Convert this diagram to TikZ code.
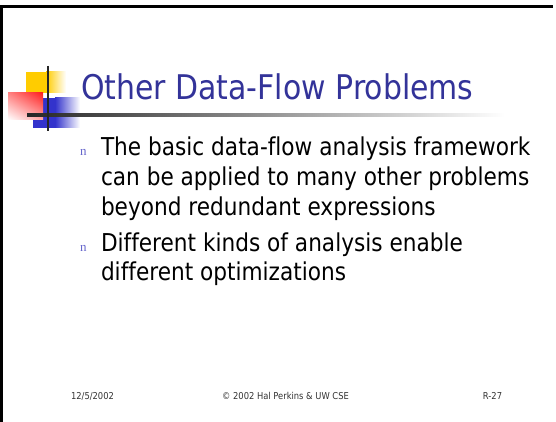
\documentclass[tikz,border=0pt]{standalone}
\usepackage{fontspec}
\usetikzlibrary{shadings}
\setmainfont{DejaVu Sans}[FakeStretch=0.88, Ligatures=NoCommon]
\newfontfamily\bulletfont{Liberation Serif}
\definecolor{titleblue}{HTML}{333399}
\definecolor{bulletblue}{HTML}{6666CC}
\definecolor{logoyellow}{HTML}{FFCC00}
\definecolor{logored}{HTML}{FF2020}
\definecolor{logoblue}{HTML}{3333CC}
\definecolor{footgray}{HTML}{333333}
\tikzset{
  txt/.style={anchor=base west, inner sep=0pt, outer sep=0pt},
  bodytext/.style={txt, font=\fontsize{24.6}{30}\selectfont, text=black},
  bulletmark/.style={txt, font=\bulletfont\fontsize{13}{13}\selectfont, text=bulletblue},
  foot/.style={anchor=base, inner sep=0pt, font=\fontsize{9.5}{11}\selectfont, text=footgray},
}
\begin{document}
\begin{tikzpicture}[x=1pt,y=-1pt]
\useasboundingbox (0,0) rectangle (556,422);
\fill[white] (0,0) rectangle (556,422);
% slide frame: top and left rules
\draw[line width=2.5pt, black] (0,6.5) -- (553,6.5);
\draw[line width=3pt, black] (1.5,5.3) -- (1.5,422);

% corner logo
\fill[logoyellow] (26,72) rectangle (46,93);
\shade[left color=logoyellow, right color=white] (46,72) rectangle (66,93);
\fill[logoblue] (33,98) rectangle (55,128);
\shade[left color=logoblue, right color=white] (55,98) rectangle (80,128);
\shade[upper right=logored, upper left=logored!55, lower right=logored!40, lower left=white]
  (8,93) rectangle (43,119.5);
\shade[left color=black!85, right color=white] (27,113.5) rectangle (505,116.5);
\draw[line width=2pt, black!85] (48,66) -- (48,131);

% title
\node[txt, font=\fontsize{34}{40}\selectfont, text=titleblue] (title) at (81,100) {Other Data-Flow Problems};

% bullets
\node[bulletmark] (b1) at (80,156) {n};
\node[bodytext] (l1) at (101,156) {The basic data-flow analysis framework};
\node[bodytext] (l2) at (101,185) {can be applied to many other problems};
\node[bodytext] (l3) at (101,215) {beyond redundant expressions};
\node[bulletmark] (b2) at (80,251.5) {n};
\node[bodytext] (l4) at (101,251.5) {Different kinds of analysis enable};
\node[bodytext] (l5) at (101,280.5) {different optimizations};

% footer
\node[foot] (date) at (92.5,399.5) {12/5/2002};
\node[foot] (copy) at (285.5,399.5) {© 2002 Hal Perkins \& UW CSE};
\node[foot] (page) at (492.5,399.5) {R-27};
\end{tikzpicture}
\end{document}
